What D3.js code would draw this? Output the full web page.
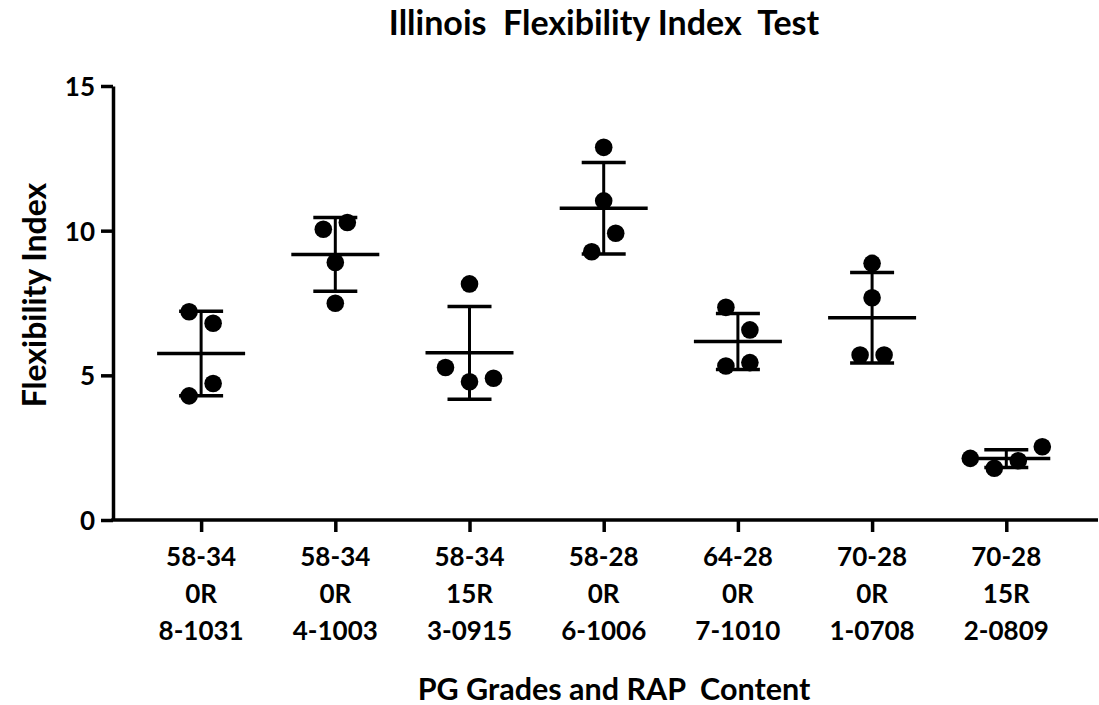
<!DOCTYPE html>
<html>
<head>
<meta charset="utf-8">
<script src="https://cdn.jsdelivr.net/npm/d3@7"></script>
<style>
  html, body { margin: 0; padding: 0; background: #fff; }
  svg { display: block; }
  text { font-family: Lato, "Open Sans", sans-serif; font-weight: bold; fill: #000; }
</style>
</head>
<body>
<svg id="chart" width="1099" height="705"></svg>
<script>
// ---- data ----
const categories = ["58-34|0R|8-1031", "58-34|0R|4-1003", "58-34|15R|3-0915", "58-28|0R|6-1006",
                    "64-28|0R|7-1010", "70-28|0R|1-0708", "70-28|15R|2-0809"];
const g1 = [7.20, 6.80, 4.72, 4.29];
const g2 = [10.05, 10.28, 8.90, 7.49];
const g3 = [8.16, 5.27, 4.78, 4.90];
const g4 = [12.88, 11.03, 9.91, 9.27];
const g5 = [7.35, 6.57, 5.32, 5.44];
const g6 = [8.87, 7.68, 5.70, 5.70];
const g7 = [2.13, 1.79, 2.05, 2.53];
const seriesValues = [g1, g2, g3, g4, g5, g6, g7];
// scatter slot (column) of each replicate, as placed by the original's scatter layout
const slots = [[-1, 1, 1, -1], [-1, 1, 0, 0], [0, -2, 0, 2], [0, 0, 1, -1],
               [-1, 1, -1, 1], [0, 0, -1, 1], [-3, -1, 1, 3]];
const yTicks = [0, 5, 10, 15];
const title = "Illinois\u00a0\u00a0Flexibility Index\u00a0\u00a0Test";
const xTitle = "PG Grades and RAP\u00a0\u00a0Content";
const yTitle = "Flexibility Index";

// ---- layout ----
const svg = d3.select("#chart");
const pLeft = 113, pRight = 1098, pTop = 86, pBottom = 520;
const x = d3.scalePoint().domain(categories).range([pLeft, pRight]).padding(0.67).align(0.49);
const y = d3.scaleLinear().domain([0, 15]).range([pBottom, pTop]);
const slotW = 12, r = 8.8;

svg.append("rect").attr("width", 1099).attr("height", 705).attr("fill", "#fff");

// axes
const yAxis = svg.append("g").attr("transform", `translate(${pLeft},0)`)
  .call(d3.axisLeft(y).tickValues(yTicks).tickSize(12).tickSizeOuter(0).tickPadding(6));
yAxis.selectAll("path,line").attr("stroke", "#000").attr("stroke-width", 3.5);
yAxis.selectAll("text").style("font-size", "26px").style("font-family", "Lato").style("font-weight", "bold").attr("dy", "0.36em");

const xAxis = svg.append("g").attr("transform", `translate(0,${pBottom})`)
  .call(d3.axisBottom(x).tickSize(12).tickSizeOuter(0).tickFormat(""));
xAxis.selectAll("path,line").attr("stroke", "#000").attr("stroke-width", 3.5);
xAxis.select(".domain").attr("d", `M${pLeft - 1.75},0H${pRight}`);

// category labels (3 lines)
const lab = svg.append("g");
categories.forEach(c => {
  const t = lab.append("text").attr("text-anchor", "middle").style("font-size", "26px");
  c.split("|").forEach((line, i) => {
    t.append("tspan").attr("x", x(c)).attr("y", 566 + i * 37).text(line);
  });
});

// data marks
const marks = svg.append("g");
seriesValues.forEach((vals, gi) => {
  const cx = x(categories[gi]);
  const m = d3.mean(vals), sd = d3.deviation(vals);
  vals.forEach((v, i) => {
    marks.append("circle").attr("cx", cx + slots[gi][i] * slotW).attr("cy", y(v)).attr("r", r).attr("fill", "#000");
  });
  marks.append("line").attr("x1", cx).attr("x2", cx).attr("y1", y(m + sd)).attr("y2", y(m - sd))
    .attr("stroke", "#000").attr("stroke-width", 3);
  [m + sd, m - sd].forEach(v => {
    marks.append("line").attr("x1", cx - 22).attr("x2", cx + 22).attr("y1", y(v)).attr("y2", y(v))
      .attr("stroke", "#000").attr("stroke-width", 3.5);
  });
  marks.append("line").attr("x1", cx - 44).attr("x2", cx + 44).attr("y1", y(m)).attr("y2", y(m))
    .attr("stroke", "#000").attr("stroke-width", 3.5);
});

// titles
svg.append("text").attr("x", 604).attr("y", 35).attr("text-anchor", "middle")
  .style("font-size", "34px").text(title);
svg.append("text").attr("x", 614).attr("y", 700).attr("text-anchor", "middle")
  .style("font-size", "30.5px").text(xTitle);
svg.append("text").attr("transform", "translate(46,295) rotate(-90)").attr("text-anchor", "middle")
  .style("font-size", "32px").text(yTitle);
</script>
</body>
</html>
